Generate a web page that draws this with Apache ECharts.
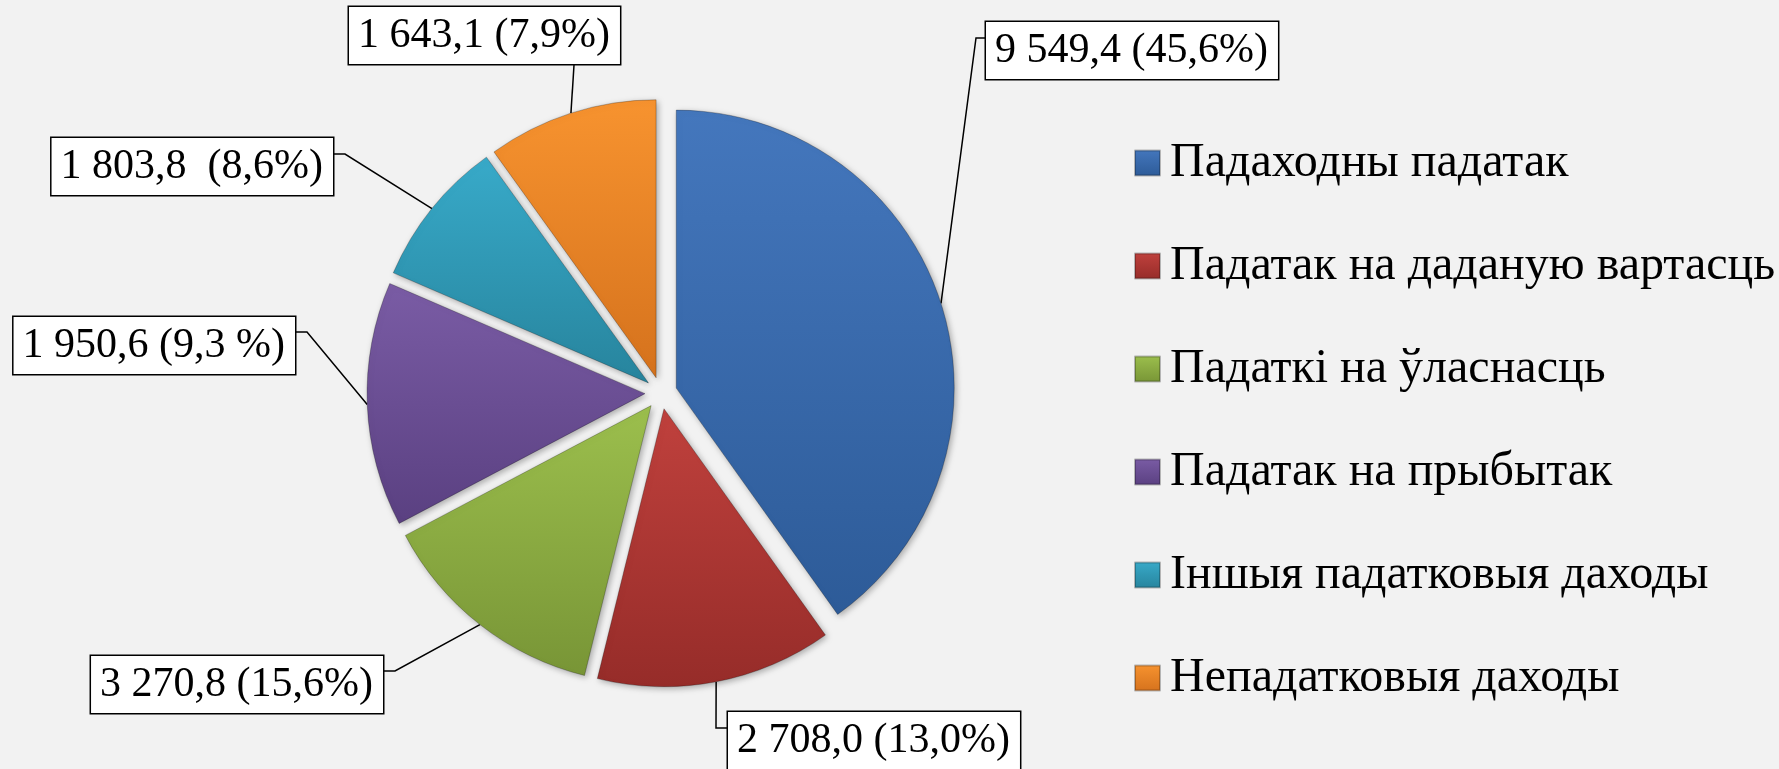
<!DOCTYPE html>
<html>
<head>
<meta charset="UTF-8">
<title>Падатковыя даходы</title>
<script src="https://cdn.jsdelivr.net/npm/echarts@6/dist/echarts.min.js"></script>
<style>
    html, body { margin: 0; padding: 0; background: #f2f2f2; }
    #pie { width: 1779px; height: 769px; }
</style>
</head>
<body>
<div id="pie"></div>
<script type="text/javascript">
    var categories = ['Падаходны падатак', 'Падатак на даданую вартасць', 'Падаткі на ўласнасць',
        'Падатак на прыбытак', 'Іншыя падатковыя даходы', 'Непадатковыя даходы'];
    var sliceShares = [40.1, 13.7, 13.4, 14.2, 8.6, 9.9];
    // label texts as printed in the picture
    var labelTexts = ['9 549,4 (45,6%)', '2 708,0 (13,0%)', '3 270,8 (15,6%)',
        '1 950,6 (9,3 %)', '1 803,8  (8,6%)', '1 643,1 (7,9%)'];

    var topColors = ['#4477bd', '#c0413d', '#9cbf4d', '#7a5ca5', '#38aac9', '#f7932f'];
    var bottomColors = ['#2d5b98', '#962c29', '#789536', '#5a4081', '#27849d', '#d5721d'];

    // label box placement and the bend of each leader line
    var labelPlaces = [
        {x: 986, y: 22, align: 'left', bend: [976, 38], join: [986, 38]},
        {x: 728, y: 712, align: 'left', bend: [716, 728], join: [728, 728]},
        {x: 383, y: 656, align: 'right', bend: [395, 671], join: [383, 671]},
        {x: 295, y: 317, align: 'right', bend: [307, 332], join: [295, 332]},
        {x: 333, y: 138, align: 'right', bend: [345, 154], join: [333, 154]},
        {x: 349, y: 7, align: 'left', bend: [574, 65], join: [574, 65]}
    ];

    var pieCenter = [661, 393];
    var pieRadius = 278;
    var explode = 16;
    var serif = "'Times New Roman', 'Liberation Serif', serif";

    var chart = echarts.init(document.getElementById('pie'));

    var sliceData = [];
    var labelData = [];
    for (var i = 0; i < categories.length; i++) {
        sliceData.push({
            name: categories[i],
            value: sliceShares[i],
            selected: true,
            itemStyle: {
                color: {
                    type: 'linear', x: 0, y: 0, x2: 0, y2: 1,
                    colorStops: [
                        {offset: 0, color: topColors[i]},
                        {offset: 1, color: bottomColors[i]}
                    ]
                }
            }
        });
        labelData.push({name: categories[i], value: sliceShares[i]});
    }

    var option = {
        backgroundColor: '#f2f2f2',
        animation: false,
        legend: {
            orient: 'vertical',
            left: 1134,
            top: 139,
            padding: 0,
            itemWidth: 25,
            itemHeight: 25,
            itemGap: 55,
            icon: 'rect',
            selectedMode: false,
            textStyle: {
                fontFamily: serif,
                fontSize: 48,
                lineHeight: 48,
                padding: [0, 0, 0, 5],
                color: '#000'
            },
            data: categories
        },
        series: [
            {
                // the exploded slices
                type: 'pie',
                center: pieCenter,
                radius: pieRadius,
                startAngle: 90,
                clockwise: true,
                selectedMode: 'multiple',
                selectedOffset: explode,
                emphasis: { scale: false },
                itemStyle: {
                    borderColor: 'rgba(0,0,0,0.25)',
                    borderWidth: 1,
                    shadowBlur: 6,
                    shadowOffsetX: 2,
                    shadowOffsetY: 2,
                    shadowColor: 'rgba(0,0,0,0.3)'
                },
                label: { show: false },
                labelLine: { show: false },
                data: sliceData
            },
            {
                // same slices, invisible, only carrying the boxed labels
                type: 'pie',
                center: pieCenter,
                radius: pieRadius + explode,
                startAngle: 90,
                clockwise: true,
                silent: true,
                avoidLabelOverlap: false,
                itemStyle: { color: 'rgba(0,0,0,0)' },
                label: {
                    show: true,
                    position: 'outside',
                    formatter: function (p) { return labelTexts[p.dataIndex]; },
                    fontFamily: serif,
                    fontSize: 42,
                    lineHeight: 48,
                    color: '#000',
                    backgroundColor: '#fff',
                    borderColor: '#000',
                    borderWidth: 1.5,
                    padding: [5, 10, 4, 9]
                },
                labelLine: {
                    show: true,
                    length: 10,
                    length2: 10,
                    lineStyle: { color: '#000', width: 1.5 }
                },
                labelLayout: function (params) {
                    var p = labelPlaces[params.dataIndex];
                    var res = {x: p.x, y: p.y, align: p.align, verticalAlign: 'top'};
                    if (params.labelLinePoints) {
                        res.labelLinePoints = [params.labelLinePoints[0], p.bend, p.join];
                    }
                    return res;
                },
                data: labelData
            }
        ]
    };

    option && chart.setOption(option);
</script>
</body>
</html>
